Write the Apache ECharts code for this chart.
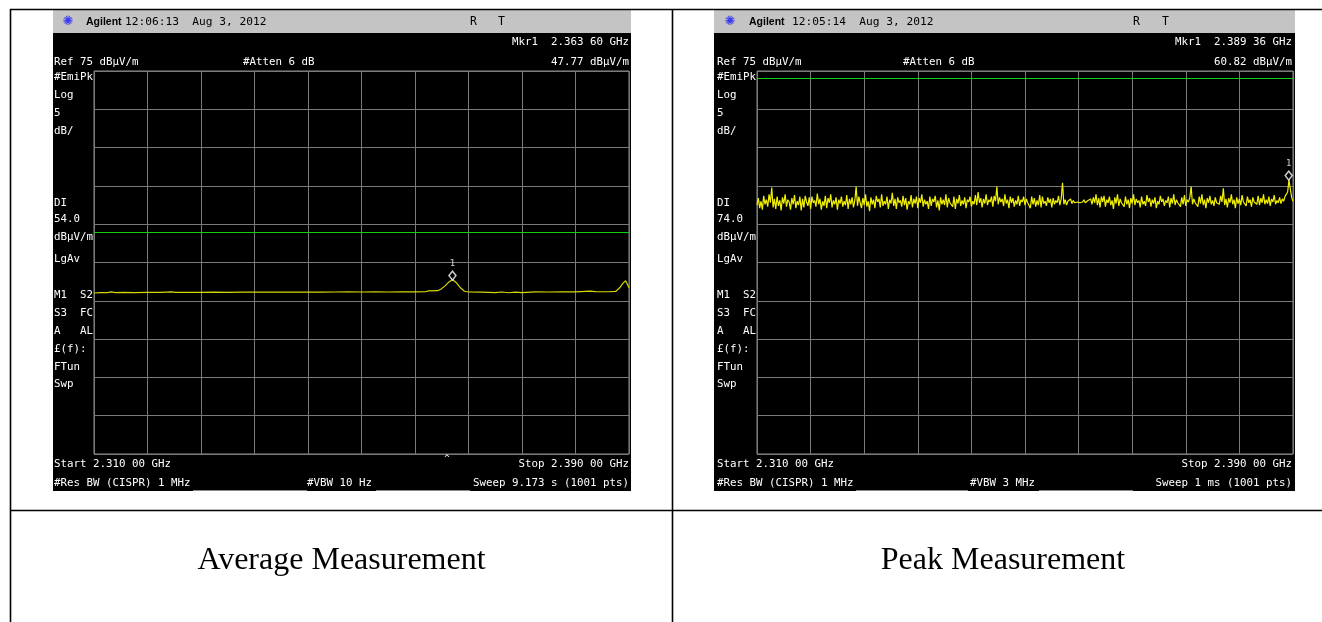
<!DOCTYPE html>
<html>
<head>
<meta charset="utf-8">
<script src="https://cdn.jsdelivr.net/npm/echarts@6/dist/echarts.min.js"></script>
<style>
  html, body { margin: 0; padding: 0; background: #ffffff; }
  #chart { width: 1322px; height: 622px; }
</style>
</head>
<body>
<div id="chart"></div>
<script>
// ---------------- DATA ----------------
// frequency axis (MHz)
const startMHz = 2310;
const stopMHz = 2390;
const divMHz = 8;
// amplitude axis (dBuV/m)
const refLevel = 75;
const bottomLevel = 25;
const dbPerDiv = 5;

const avgFreq = [2310.0, 2311.0, 2312.0, 2312.6, 2313.2, 2314.5, 2316.0, 2318.0, 2320.0, 2321.6, 2322.2, 2324.0,
  2326.0, 2328.0, 2330.0, 2332.0, 2334.0, 2336.0, 2338.0, 2340.0, 2342.0, 2344.0, 2346.0, 2348.0, 2350.0,
  2352.0, 2354.0, 2356.0, 2358.0, 2359.6, 2360.0, 2361.4, 2361.9, 2362.5, 2363.0, 2363.6, 2364.2, 2364.8,
  2365.4, 2366.0, 2368.0, 2370.0, 2371.0, 2372.0, 2373.0, 2374.0, 2376.0, 2378.0, 2380.0, 2382.0, 2384.2,
  2385.0, 2386.0, 2387.0, 2388.0, 2388.6, 2389.1, 2389.5, 2389.8, 2390.0];
const avgLevel = [46.02, 46.08, 46.06, 46.16, 46.06, 46.10, 46.08, 46.10, 46.09, 46.16, 46.09, 46.11,
  46.10, 46.12, 46.11, 46.12, 46.13, 46.12, 46.14, 46.13, 46.15, 46.14, 46.15, 46.16, 46.15,
  46.16, 46.15, 46.17, 46.16, 46.18, 46.30, 46.32, 46.55, 46.95, 47.40, 47.77, 47.35, 46.70,
  46.25, 46.15, 46.14, 46.08, 46.15, 46.05, 46.14, 46.08, 46.16, 46.15, 46.17, 46.16, 46.26,
  46.20, 46.18, 46.18, 46.22, 46.70, 47.30, 47.62, 47.10, 46.70];

// Peak measurement trace (401 points, 0.2 MHz apart)
const peakStepMHz = 0.2;
const peakLevel = [
  57.5, 58.4, 57.1, 58.0, 56.9, 58.7, 57.6, 58.2, 57.3, 58.9, 57.8, 59.8, 57.2, 58.3, 57.0, 58.6, 57.4, 58.1, 56.8, 58.5,
  57.7, 58.9, 57.3, 58.2, 57.9, 56.9, 58.4, 57.6, 58.8, 57.1, 58.0, 57.5, 58.6, 56.8, 58.3, 57.2, 58.7, 57.9, 57.4, 58.5,
  57.0, 58.6, 57.8, 58.1, 57.3, 59.0, 57.6, 58.3, 56.9, 58.0, 57.4, 58.7, 57.1, 58.4, 57.8, 58.9, 57.2, 58.1, 57.6, 58.5,
  56.9, 58.2, 57.7, 58.6, 57.3, 58.0, 57.5, 58.8, 57.0, 58.3, 57.6, 58.5, 57.2, 58.1, 59.9, 57.4, 58.6, 57.8, 57.1, 58.4,
  57.5, 58.9, 57.3, 58.0, 56.7, 58.5, 57.6, 58.2, 57.1, 58.7, 57.9, 58.3, 57.2, 58.9, 57.4, 58.0, 57.6, 58.6, 57.0, 58.2,
  57.7, 59.1, 57.4, 58.3, 57.0, 58.5, 57.8, 58.1, 57.3, 58.7, 57.5, 58.4, 56.9, 58.0, 57.6, 58.8, 57.2, 58.3, 57.7, 58.6,
  57.1, 58.4, 57.8, 58.9, 57.3, 58.2, 57.6, 58.0, 57.0, 58.6, 57.4, 58.3, 57.9, 58.7, 57.2, 58.1, 56.8, 58.5, 57.6, 58.2,
  57.5, 58.9, 57.2, 58.4, 57.8, 58.0, 57.3, 58.6, 57.0, 58.3, 57.7, 58.8, 57.4, 58.1, 57.6, 58.5, 57.1, 58.2, 57.9, 58.6,
  57.3, 58.0, 57.6, 58.8, 57.5, 59.2, 57.8, 58.4, 57.2, 58.3, 57.7, 58.9, 57.5, 58.2, 57.9, 58.6, 57.3, 58.7, 58.0, 59.9,
  57.6, 58.5, 57.9, 58.3, 57.4, 58.9, 57.7, 58.2, 57.1, 58.6, 57.8, 58.4, 57.3, 58.1, 57.6, 58.7, 57.4, 58.2, 57.9, 58.6,
  57.5, 58.3, 57.8, 58.0, 57.1, 58.6, 57.6, 58.4, 57.3, 58.1, 57.5, 58.8, 57.2, 58.6, 57.7, 58.0, 57.4, 58.5, 57.8, 58.3,
  57.2, 58.4, 57.6, 58.1, 57.8, 58.7, 57.5, 58.3, 60.4, 57.6, 58.2, 57.5, 58.0, 57.9, 58.3, 57.7, 58.1, 57.8, 58.0, 57.9,
  58.1, 57.8, 58.0, 57.9, 58.2, 57.8, 58.0, 58.1, 57.9, 58.3, 57.6, 58.5, 57.8, 58.9, 57.5, 58.4, 57.2, 58.6, 57.9, 58.7,
  57.3, 58.2, 57.8, 58.6, 57.5, 58.1, 57.0, 58.5, 57.7, 58.9, 57.4, 58.3, 57.8, 58.0, 57.3, 58.6, 57.6, 58.2, 57.1, 58.4,
  57.7, 58.9, 57.5, 58.3, 57.8, 58.1, 57.2, 58.6, 57.6, 58.0, 57.4, 58.8, 57.9, 58.4, 57.3, 58.2, 57.7, 58.5, 57.1, 58.0,
  57.6, 58.7, 57.9, 58.3, 57.4, 58.1, 57.8, 58.6, 57.2, 58.4, 57.7, 58.9, 57.5, 58.2, 57.8, 58.0, 57.3, 58.5, 57.6, 58.8,
  57.4, 58.2, 57.9, 58.5, 59.9, 57.6, 58.3, 57.8, 58.0, 57.3, 58.6, 57.7, 58.9, 57.5, 58.2, 57.1, 58.4, 57.8, 58.7, 57.6,
  58.1, 57.4, 58.5, 57.8, 58.0, 57.6, 58.7, 57.9, 59.7, 57.5, 58.3, 57.2, 58.4, 57.8, 58.9, 57.6, 58.2, 57.1, 58.5, 57.7,
  58.3, 57.5, 58.8, 57.9, 58.1, 57.4, 58.6, 57.8, 58.2, 57.3, 58.5, 57.9, 58.0, 57.6, 58.7, 57.5, 58.4, 57.8, 58.9, 57.6,
  58.2, 57.7, 58.6, 57.4, 58.3, 57.9, 58.8, 57.6, 58.1, 57.8, 58.5, 57.7, 58.3, 58.0, 58.6, 58.4, 59.2, 60.8, 59.6, 58.5,
  58.0];

// Display lines and markers
const avgDisplayLine = 54.0;
const peakDisplayLine = 74.0;
const avgMarker = [2363.60, 47.77];
const peakMarker = [2389.36, 60.82];

// Texts
const captions = ['Average Measurement', 'Peak Measurement'];
const panelTexts = [
  { time: '12:06:13  Aug 3, 2012', mkrFreq: 'Mkr1  2.363 60 GHz', mkrLevel: '47.77 dBμV/m', dl: '54.0',
    vbw: '#VBW 10 Hz', sweep: 'Sweep 9.173 s (1001 pts)' },
  { time: '12:05:14  Aug 3, 2012', mkrFreq: 'Mkr1  2.389 36 GHz', mkrLevel: '60.82 dBμV/m', dl: '74.0',
    vbw: '#VBW 3 MHz', sweep: 'Sweep 1 ms (1001 pts)' }
];
const sideLabels = ['#EmiPk', 'Log', '5', 'dB/', 'DI', null, 'dBμV/m', 'LgAv', 'M1  S2', 'S3  FC', 'A   AL', '£(f):', 'FTun', 'Swp'];

// ---------------- LAYOUT ----------------
const panels = [
  { bx: 53, bw: 578, gx: 94, gw: 535, textL: 54, textR: 629, atten: 243, vbwX: 307, agil: 86, timeX: 125, rX: 470, tX: 498, icon: 68,
    under: [[193, 307], [376, 470]], caret: 447 },
  { bx: 714, bw: 581, gx: 757, gw: 536, textL: 717, textR: 1292, atten: 903, vbwX: 970, agil: 749, timeX: 792, rX: 1133, tX: 1162, icon: 730,
    under: [[856, 968], [1039, 1133]], caret: null }
];
const gridTop = 71, gridH = 383;
const sideY = [77, 95, 113, 131, 203, 219, 237, 259, 295, 313, 331, 349, 367, 384];
const MONO = '"DejaVu Sans Mono", "Liberation Mono", monospace';
const monoFont = '10.8px ' + MONO;

const graphics = [];
function txt(text, x, y, align, extra) {
  graphics.push(Object.assign({
    type: 'text', z: 100, silent: true,
    style: Object.assign({ text: text, x: x, y: y, fill: '#ffffff', font: monoFont,
      textAlign: align || 'left', align: align || 'left', textVerticalAlign: 'middle', verticalAlign: 'middle' }, extra || {})
  }));
}

// table lines
const tableLines = [
  [10.5, 9, 10.5, 622], [10, 9.5, 1322, 9.5], [672.5, 9, 672.5, 622], [10, 510.5, 1322, 510.5]
];
tableLines.forEach(l => graphics.push({ type: 'line', z: 50, silent: true,
  shape: { x1: l[0], y1: l[1], x2: l[2], y2: l[3] }, style: { stroke: '#000', lineWidth: 1.6 } }));

panels.forEach((p, i) => {
  const t = panelTexts[i];
  graphics.push({ type: 'rect', z: -10, silent: true, shape: { x: p.bx, y: 10, width: p.bw, height: 481 }, style: { fill: '#000' } });
  graphics.push({ type: 'rect', z: -9, silent: true, shape: { x: p.bx, y: 10, width: p.bw, height: 23 }, style: { fill: '#c4c4c4' } });
  txt('✺', p.icon, 22, 'center', { fill: '#3b3bf0', font: '13px "DejaVu Sans"' });
  txt('Agilent', p.agil, 22, 'left', { fill: '#000', font: 'bold 10.5px "Liberation Sans", Arial, sans-serif' });
  txt(t.time, p.timeX, 22, 'left', { fill: '#000', font: '11.2px ' + MONO });
  txt('R', p.rX, 22, 'left', { fill: '#000', font: '11.5px ' + MONO });
  txt('T', p.tX, 22, 'left', { fill: '#000', font: '11.5px ' + MONO });
  txt(t.mkrFreq, p.textR, 42, 'right');
  txt('Ref 75 dBμV/m', p.textL, 62, 'left');
  txt('#Atten 6 dB', p.atten, 62, 'left');
  txt(t.mkrLevel, p.textR, 62, 'right');
  sideLabels.forEach((s, k) => { txt(s === null ? t.dl : s, p.textL, sideY[k], 'left'); });
  txt('Start 2.310 00 GHz', p.textL, 464, 'left');
  txt('Stop 2.390 00 GHz', p.textR, 464, 'right');
  txt('#Res BW (CISPR) 1 MHz', p.textL, 483, 'left');
  txt(t.vbw, p.vbwX, 483, 'left');
  txt(t.sweep, p.textR, 483, 'right');
  if (p.caret) txt('^', p.caret, 459, 'center', { font: '9px ' + MONO });
  p.under.forEach(u => graphics.push({ type: 'line', z: 50, silent: true,
    shape: { x1: u[0], y1: 490.5, x2: u[1], y2: 490.5 }, style: { stroke: '#8a8a8a', lineWidth: 1 } }));
});
// captions
txt(captions[0], 341.5, 561, 'center', { fill: '#000', font: '32px "Liberation Serif", "Times New Roman", serif' });
txt(captions[1], 1003, 561, 'center', { fill: '#000', font: '32px "Liberation Serif", "Times New Roman", serif' });

// ---------------- CHART ----------------
const gridLine = '#7a7a7a';
function xAx(gi) {
  return { type: 'value', gridIndex: gi, min: startMHz, max: stopMHz, interval: divMHz,
    axisLabel: { show: false }, axisTick: { show: false }, axisLine: { show: false },
    splitLine: { show: true, lineStyle: { color: gridLine, width: 1 } } };
}
function yAx(gi) {
  return { type: 'value', gridIndex: gi, min: bottomLevel, max: refLevel, interval: dbPerDiv,
    axisLabel: { show: false }, axisTick: { show: false }, axisLine: { show: false },
    splitLine: { show: true, lineStyle: { color: gridLine, width: 1 } } };
}
const avgData = avgFreq.map((f, k) => [f, avgLevel[k]]);
const peakData = peakLevel.map((v, k) => [startMHz + k * peakStepMHz, v]);

function markerSeries(gi, pt) {
  return { type: 'scatter', xAxisIndex: gi, yAxisIndex: gi, z: 20, silent: true,
    data: [pt], symbol: 'diamond', symbolSize: [7, 9], symbolOffset: [0, -4],
    itemStyle: { color: '#000', borderColor: '#ffffff', borderWidth: 1.5 },
    label: { show: true, position: 'top', formatter: '1', color: '#ffffff', fontSize: 9, distance: 2, fontFamily: MONO } };
}
function dlMark(level) {
  return { silent: true, symbol: 'none', animation: false,
    label: { show: false }, lineStyle: { color: '#10d010', width: 1.2, type: 'solid' },
    data: [{ yAxis: level }] };
}

const option = {
  backgroundColor: '#ffffff',
  animation: false,
  grid: panels.map(p => ({ left: p.gx, top: gridTop, width: p.gw, height: gridH, show: true,
    borderColor: '#8c8c8c', borderWidth: 1, backgroundColor: 'transparent', containLabel: false, outerBoundsMode: 'none' })),
  xAxis: [xAx(0), xAx(1)],
  yAxis: [yAx(0), yAx(1)],
  graphic: { elements: graphics },
  series: [
    { type: 'line', xAxisIndex: 0, yAxisIndex: 0, data: avgData, symbol: 'none', z: 10, silent: true,
      lineStyle: { color: '#d6d600', width: 1.2 }, markLine: dlMark(avgDisplayLine) },
    markerSeries(0, avgMarker),
    { type: 'line', xAxisIndex: 1, yAxisIndex: 1, data: peakData, symbol: 'none', z: 10, silent: true,
      lineStyle: { color: '#f2f200', width: 1.2 }, markLine: dlMark(peakDisplayLine) },
    markerSeries(1, peakMarker)
  ]
};
const chart = echarts.init(document.getElementById('chart'), null, { renderer: 'canvas' });
chart.setOption(option);
</script>
</body>
</html>
